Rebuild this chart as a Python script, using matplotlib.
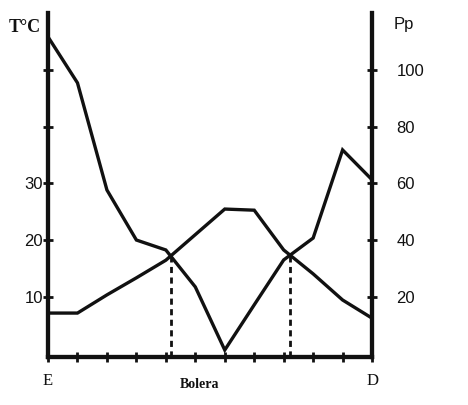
import matplotlib.pyplot as plt
import numpy as np

# monthly data, Bolera (E = enero ... D = diciembre)
months = ['E', '', '', '', '', '', '', '', '', '', '', 'D']
temp = [7.2, 7.2, 10.4, 13.4, 16.5, 21.0, 25.5, 25.3, 18.3, 14.1, 9.5, 6.3]
prec = [111.6, 95.4, 57.7, 40.1, 36.6, 23.6, 1.4, 17.3, 33.1, 40.8, 71.8, 61.3]

t_ticks = [10, 20, 30, 40, 50]
t_labels = ['10', '20', '30', '', '']
p_ticks = [20, 40, 60, 80, 100]

BLK = '#111111'
LW = 2.4

fig = plt.figure(figsize=(4.68, 4.05), dpi=100)
ax = fig.add_axes([0.1026, 0.1185, 0.6924, 0.8495])
ax2 = ax.twinx()

x = np.arange(len(months))
ax.set_xlim(0, 11)
ax.set_ylim(-0.53, 60)
ax2.set_ylim(-1.06, 120)

ax.plot(x, temp, color=BLK, lw=LW, solid_joinstyle='miter', zorder=3)
ax2.plot(x, prec, color=BLK, lw=LW, solid_joinstyle='miter', zorder=3)

# dry period limits: where P = 2T
diff = np.array(prec) - 2 * np.array(temp)
for i in range(len(diff) - 1):
    if diff[i] * diff[i + 1] < 0:
        f = diff[i] / (diff[i] - diff[i + 1])
        xc = x[i] + f
        yc = prec[i] + f * (prec[i + 1] - prec[i])
        ax2.vlines(xc, -1.06, yc, colors=BLK, lw=2, linestyles=(0, (2.2, 1.6)))

for a in (ax, ax2):
    a.spines['top'].set_visible(False)
    for s in ('left', 'right', 'bottom'):
        a.spines[s].set_linewidth(3)
        a.spines[s].set_color(BLK)

ax.set_xticks(x)
ax.set_xticklabels(months, fontsize=12, family='Liberation Serif')
ax.tick_params(axis='x', direction='inout', length=7, width=2, pad=8, colors=BLK)
ax.set_yticks(t_ticks)
ax.set_yticklabels(t_labels, fontsize=12, family='Liberation Sans')
ax.tick_params(axis='y', direction='inout', length=7, width=2, pad=0, colors=BLK)
ax2.set_yticks(p_ticks)
ax2.set_yticklabels([str(v) for v in p_ticks], fontsize=12, family='Liberation Sans')
ax2.tick_params(axis='y', direction='inout', length=7, width=2, pad=14, colors=BLK)

fig.text(25 / 468, 1 - 27 / 405, 'T°C', ha='center', va='center', fontsize=13,
         fontweight='bold', family='Liberation Serif', color=BLK)
fig.text(404 / 468, 1 - 25 / 405, 'Pp', ha='center', va='center', fontsize=12,
         family='Liberation Sans', color=BLK)
fig.text(200 / 468, 1 - 385 / 405, 'Bolera', ha='center', va='center', fontsize=10,
         fontweight='bold', family='Liberation Serif', color=BLK)

fig.savefig('out.png', dpi=100, facecolor='white')
